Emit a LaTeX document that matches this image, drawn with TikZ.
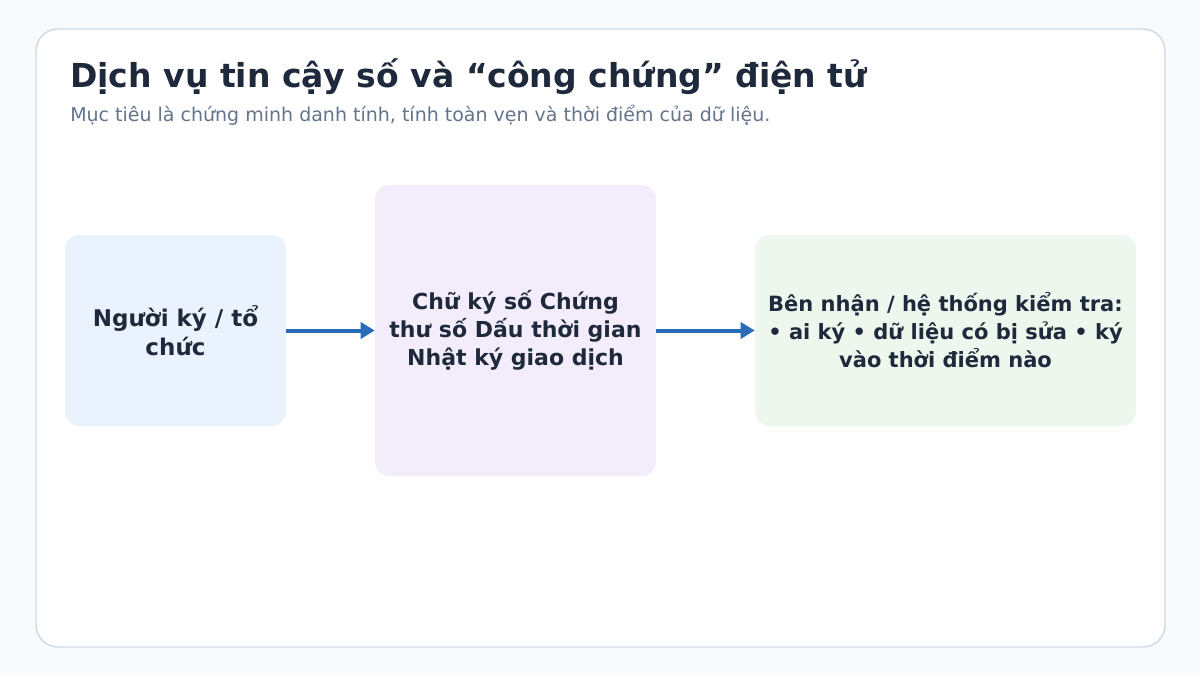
\documentclass[tikz,border=0pt]{standalone}
\usepackage{fontspec}
\setmainfont{DejaVu Sans}
\usepackage{xcolor}
\usetikzlibrary{arrows.meta}

\definecolor{pagebg}{HTML}{F8FAFC}
\definecolor{cardline}{HTML}{D0DAE5}
\definecolor{inkdark}{HTML}{1E293B}
\definecolor{inkgrey}{HTML}{64748B}
\definecolor{signerfill}{HTML}{EAF2FD}
\definecolor{toolfill}{HTML}{F3EDFB}
\definecolor{verifierfill}{HTML}{EDF7EE}
\definecolor{flowblue}{HTML}{2B6CB8}

\begin{document}
\begin{tikzpicture}[
    x=0.75pt, y=-0.75pt,
    box/.style={rounded corners=10.5pt, align=center, text=inkdark, inner sep=0pt},
    flow/.style={draw=flowblue, line width=3pt,
        -{Triangle[length=10.5pt, width=12pt]}}
]
% page and card
\fill[pagebg] (0,0) rectangle (1200,675);
\draw[fill=white, draw=cardline, line width=1.1pt, rounded corners=16.5pt]
    (36,29) rectangle (1165,647);

% heading
\node[anchor=base west, inner sep=0pt, text=inkdark, font=\fontsize{24.75}{28}\selectfont\bfseries]
    (title) at (70,87) {Dịch vụ tin cậy số và “công chứng” điện tử};
\node[anchor=base west, inner sep=0pt, text=inkgrey, font=\fontsize{14.25}{17}\selectfont]
    (subtitle) at (70,121) {Mục tiêu là chứng minh danh tính, tính toàn vẹn và thời điểm của dữ liệu.};

% boxes
\node[box, fill=signerfill, minimum width=165.75pt, minimum height=143.25pt,
      font=\fontsize{17.25}{21.75}\selectfont\bfseries]
    (signer) at (175.5,330.5) {Người ký / tổ\\chức};
\node[box, fill=toolfill, minimum width=210.75pt, minimum height=218.25pt,
      font=\fontsize{16.5}{21}\selectfont\bfseries]
    (tools) at (515.5,330.5) {Chữ ký số Chứng\\thư số Dấu thời gian\\Nhật ký giao dịch};
\node[box, fill=verifierfill, minimum width=285.75pt, minimum height=143.25pt,
      font=\fontsize{15.75}{21}\selectfont\bfseries]
    (verifier) at (945.5,330.5) {Bên nhận / hệ thống kiểm tra:\\• ai ký • dữ liệu có bị sửa • ký\\vào thời điểm nào};

% arrows
\draw[flow] (signer.east) -- (tools.west);
\draw[flow] (tools.east) -- (verifier.west);
\end{tikzpicture}
\end{document}
